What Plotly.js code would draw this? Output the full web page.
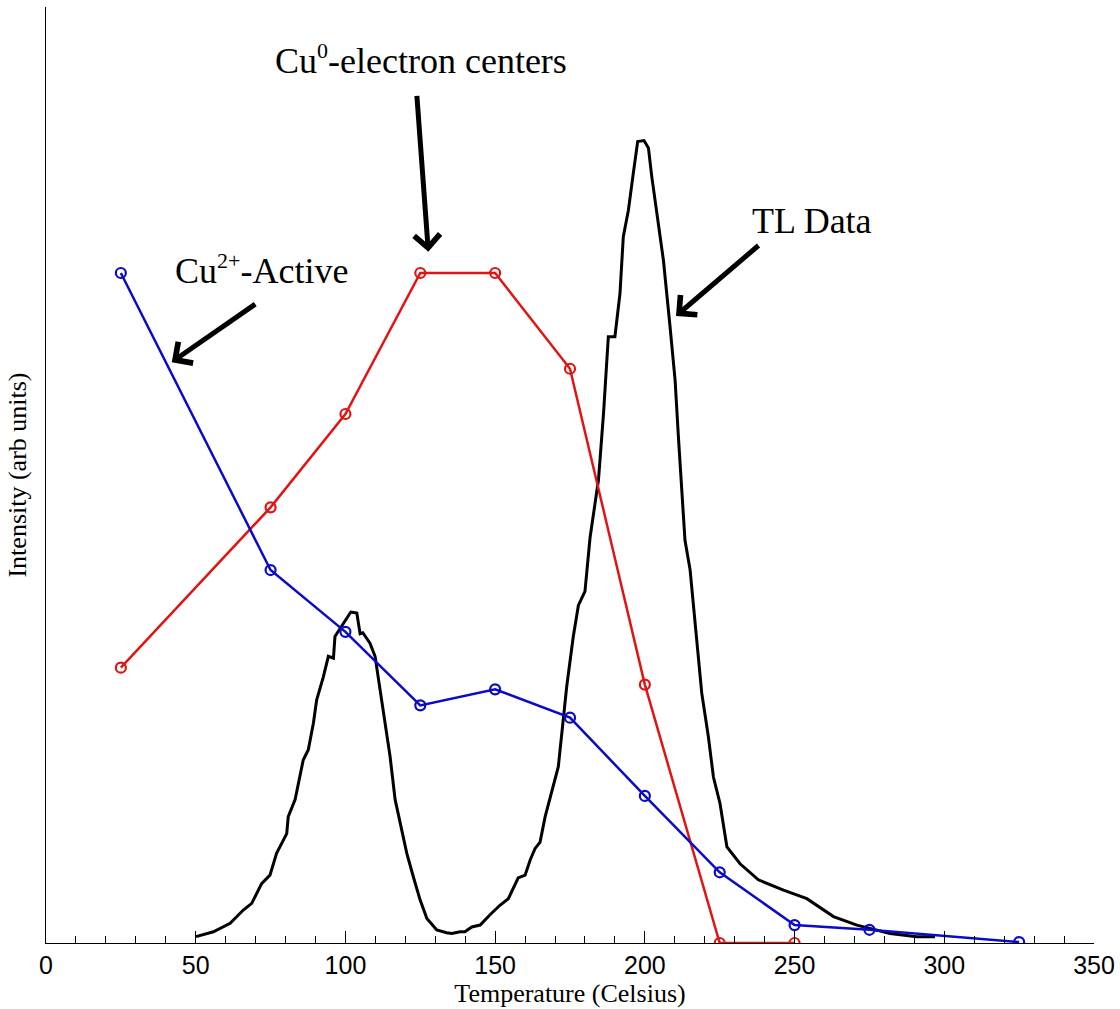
<!DOCTYPE html>
<html>
<head>
<meta charset="utf-8">
<script src="https://cdn.plot.ly/plotly-3.0.1.min.js"></script>
<style>html,body{margin:0;padding:0;background:#fff;}#chart{width:1120px;height:1009px;}</style>
</head>
<body>
<div id="chart"></div>
<script>
// Cu2+-Active (blue) and Cu0-electron centers (red), sampled at these temperatures
var cu2Temp = [25, 75, 100, 125, 150, 175, 200, 225, 250, 275, 325];
var cu2Int  = [71.05, 39.55, 33.0, 25.2, 26.9, 23.9, 15.6, 7.5, 1.9, 1.4, 0.1];

var cu0Temp = [25, 75, 100, 125, 150, 175, 200, 225, 250];
var cu0Int  = [29.2, 46.2, 56.1, 71.05, 71.05, 60.9, 27.4, 0, 0];

// TL glow curve (black)
var tlTemp = [50.1, 55.9, 61.5, 65.9, 68.7, 72.0, 74.8, 77.0, 80.4, 80.9, 83.2, 84.8, 85.9, 87.6,
  89.3, 90.4, 92.6, 94.3, 96.0, 96.5, 99.3, 101.8, 103.8, 104.9, 105.8, 108.2, 109.9, 111.6,
  113.2, 114.9, 116.6, 118.2, 120.5, 122.7, 124.9, 127.2, 130.5, 133.8, 135.5, 138.3, 139.9,
  142.2, 145.0, 148.3, 151.6, 154.4, 157.7, 160.0, 161.7, 163.3, 165.0, 166.7, 169.4, 171.1,
  173.9, 176.1, 177.8, 180.0, 181.7, 184.5, 186.2, 187.8, 190.0, 191.7, 192.8, 194.5, 196.0,
  197.6, 199.7, 201.2, 202.3, 204.0, 206.2, 208.4, 210.1, 211.2, 212.3, 213.4, 215.1, 217.3,
  219.0, 221.2, 222.9, 225.1, 227.4, 231.8, 237.9, 246.3, 254.1, 263.0, 270.8, 281.9, 290.8, 296.9];
var tlInt = [0.67, 1.19, 2.09, 3.5, 4.2, 6.3, 7.2, 9.5, 11.6, 13.4, 15.2, 17.6, 19.4, 20.5,
  23.3, 25.8, 28.2, 30.4, 30.2, 32.5, 33.9, 35.1, 35.0, 32.8, 32.9, 31.8, 30.4, 26.8,
  23.3, 19.8, 15.2, 13.0, 9.5, 7.0, 4.6, 2.6, 1.38, 1.09, 1.0, 1.19, 1.2,
  1.7, 1.9, 3.0, 4.0, 4.7, 6.9, 7.2, 8.8, 10.0, 10.7, 13.4, 16.6, 18.7,
  27.2, 32.5, 35.8, 37.3, 43.0, 49.1, 56.2, 64.3, 64.3, 68.9, 74.9, 77.7, 81.3,
  85.0, 85.1, 84.3, 81.3, 77.4, 72.4, 65.4, 59.7, 53.7, 48.4, 42.7, 39.6, 32.5,
  26.5, 21.9, 17.6, 14.8, 10.2, 8.4, 6.7, 5.6, 4.7, 2.8, 1.9, 1.0, 0.67, 0.67];

var xTitle = 'Temperature (Celsius)';
var yTitle = 'Intensity (arb units)';
var labelCu0 = 'Cu<sup><span style="font-size:22px">0</span></sup>-electron centers';
var labelTL = 'TL Data';
var labelCu2 = 'Cu<sup><span style="font-size:22px">2+</span></sup>-Active';

var serif = 'Liberation Serif, Times New Roman, serif';
var sans = 'Liberation Sans, Arial, sans-serif';

var traces = [
  {x: tlTemp, y: tlInt, type: 'scatter', mode: 'lines',
   line: {color: '#000000', width: 3}, hoverinfo: 'skip'},
  {x: cu0Temp, y: cu0Int, type: 'scatter', mode: 'lines+markers',
   line: {color: 'rgb(225,20,20)', width: 2.5},
   marker: {symbol: 'circle-open', size: 10, color: 'rgb(225,20,20)', line: {width: 2.2, color: 'rgb(225,20,20)'}}},
  {x: cu2Temp, y: cu2Int, type: 'scatter', mode: 'lines+markers',
   line: {color: 'rgb(10,10,200)', width: 2.5},
   marker: {symbol: 'circle-open', size: 10, color: 'rgb(10,10,200)', line: {width: 2.2, color: 'rgb(10,10,200)'}}}
];

function arrowAnn(x, y, ax, ay) {
  return {x: x, y: y, xref: 'x', yref: 'y', ax: ax, ay: ay, text: '', showarrow: true,
          arrowhead: 4, arrowsize: 1, arrowwidth: 5, arrowcolor: '#000', standoff: 0};
}
function textAnn(x, y, t) {
  return {x: x, y: y, xref: 'x', yref: 'y', text: t, showarrow: false,
          xanchor: 'center', yanchor: 'middle', font: {family: serif, size: 36, color: '#000'}};
}

var layout = {
  width: 1120, height: 1009,
  margin: {l: 46, r: 26, t: 7, b: 66},
  paper_bgcolor: '#fff', plot_bgcolor: '#fff',
  showlegend: false,
  xaxis: {
    range: [0, 350], showgrid: false, zeroline: false,
    showline: true, linecolor: '#000', linewidth: 1.2,
    ticks: 'inside', ticklen: 12, tickwidth: 1, tickcolor: '#000', dtick: 50, tick0: 0,
    minor: {dtick: 10, ticks: 'inside', ticklen: 7, tickwidth: 1, tickcolor: '#000', showgrid: false},
    tickfont: {family: sans, size: 25, color: '#000'},
    title: {text: xTitle, font: {family: serif, size: 26, color: '#000'}, standoff: 3},
    automargin: false
  },
  yaxis: {
    range: [0, 99.26], showgrid: false, zeroline: false,
    showline: true, linecolor: '#000', linewidth: 1.2,
    ticks: '', showticklabels: false,
    title: {text: yTitle, font: {family: serif, size: 26, color: '#000'}, standoff: 10},
    automargin: false
  },
  annotations: [
    textAnn(125.3, 93.7, labelCu0),
    textAnn(255.7, 76.6, labelTL),
    textAnn(72.0, 71.4, labelCu2),
    arrowAnn(127.7, 73.3, -11.6, -157.4),
    arrowAnn(210.4, 66.5, 84, -71.7),
    arrowAnn(42.0, 61.6, 85, -59)
  ]
};

Plotly.newPlot('chart', traces, layout, {displayModeBar: false, staticPlot: true});
</script>
</body>
</html>
